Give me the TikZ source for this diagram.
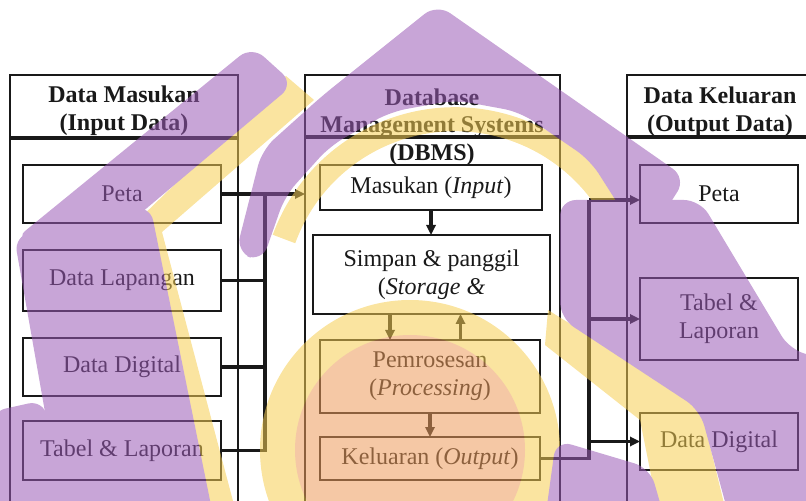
\documentclass[tikz,border=0pt]{standalone}
\usepackage{fontspec}
\setmainfont{Liberation Serif}
\usetikzlibrary{arrows.meta}

\definecolor{tinta}{RGB}{25,25,25}
\definecolor{ungu}{RGB}{155,91,182}
\definecolor{kuning}{RGB}{245,205,82}
\definecolor{jingga}{RGB}{236,155,91}

\tikzset{
  panel/.style={draw=tinta, line width=0.8pt, inner sep=0pt, outer sep=0pt},
  kotak/.style={draw=tinta, line width=1pt, inner sep=0pt, outer sep=0pt, align=center,
                text=tinta, font=\fontsize{12}{14}\selectfont},
  judul/.style={align=center, text=tinta, font=\fontsize{12}{13.8}\selectfont\bfseries},
  sekat/.style={draw=tinta, line width=2pt},
  garis/.style={draw=tinta, line width=1.6pt},
  panah/.style={garis, -{Triangle[length=5pt,width=4.6pt]}}
}

\begin{document}
\begin{tikzpicture}[x=0.5pt, y=-0.5pt]
  \useasboundingbox (0,0) rectangle (806,501);
  \clip (0,0) rectangle (806,501);

  % tiga panel
  \node[panel, minimum width=114pt,   minimum height=222.5pt] (pIn)  at (124,297.5) {};
  \node[panel, minimum width=127.5pt, minimum height=222.5pt] (pDb)  at (432.5,297.5) {};
  \node[panel, minimum width=101.5pt, minimum height=222.5pt] (pOut) at (728.5,297.5) {};
  \draw[sekat] (pIn.west |- 0,138)  -- (pIn.east |- 0,138);
  \draw[sekat] (pDb.west |- 0,137)  -- (pDb.east |- 0,137);
  \draw[sekat] (pOut.west |- 0,137) -- (pOut.east |- 0,137);

  \node[judul] (jIn)  at (124,111) {Data Masukan\\(Input Data)};
  \node[judul] (jDb)  at (432,127) {Database\\Management Systems\\(DBMS)};
  \node[judul] (jOut) at (720,112) {Data Keluaran\\(Output Data)};

  % data masukan
  \node[kotak, minimum width=99pt, minimum height=29pt]   (petaIn) at (122,194)   {Peta};
  \node[kotak, minimum width=99pt, minimum height=30.5pt] (lapIn)  at (122,280.5) {Data Lapangan};
  \node[kotak, minimum width=99pt, minimum height=29pt]   (digIn)  at (122,367)   {Data Digital};
  \node[kotak, minimum width=99pt, minimum height=29.5pt] (tabIn)  at (122,450.5) {Tabel \& Laporan};

  % DBMS
  \node[kotak, minimum width=111pt,   minimum height=22.5pt] (masuk)  at (431,187.5) {Masukan (\textit{Input})};
  \node[kotak, minimum width=118.5pt, minimum height=39.5pt] (simpan) at (431.5,274.5) {Simpan \& panggil\\(\textit{Storage \&}};
  \node[kotak, minimum width=110pt,   minimum height=36.5pt] (proses) at (430,376.5) {Pemrosesan\\(\textit{Processing})};
  \node[kotak, minimum width=110pt,   minimum height=21.5pt] (keluar) at (430,458.5) {Keluaran (\textit{Output})};

  % data keluaran
  \node[kotak, minimum width=79pt, minimum height=29pt]   (petaOut) at (719,194)   {Peta};
  \node[kotak, minimum width=79pt, minimum height=41pt]   (tabOut)  at (719,319)   {Tabel \&\\Laporan};
  \node[kotak, minimum width=79pt, minimum height=28.5pt] (digOut)  at (719,441.5) {Data Digital};

  % penghubung
  \coordinate (busIn)  at (265,0);
  \coordinate (busOut) at (589,200);
  \draw[panah] (petaIn.east) -- (petaIn.east -| pDb.west);
  \draw[garis] (tabIn.east) -| (busIn |- petaIn.east);
  \draw[garis] (lapIn.east) -- (lapIn.east -| busIn);
  \draw[garis] (digIn.east) -- (digIn.east -| busIn);

  \draw[panah] (masuk.south) -- (masuk.south |- simpan.north);
  \draw[panah] ([xshift=-20.75pt]simpan.south) -- ([xshift=-20.75pt]simpan.south |- proses.north);
  \draw[panah] ([xshift=15.25pt]proses.north) -- ([xshift=15.25pt]proses.north |- simpan.south);
  \draw[panah] (proses.south) -- (proses.south |- keluar.north);

  \draw[garis] (keluar.east) -| (busOut);
  \draw[panah] (busOut) -- (busOut -| petaOut.west);
  \draw[panah] (tabOut.west -| busOut) -- (tabOut.west);
  \draw[panah] (digOut.west -| busOut) -- (digOut.west);

  % tanda air
  \begin{scope}[transparency group, opacity=.55]
    \fill[kuning] (410,450) circle[radius=150];
    \fill[jingga] (410,450) circle[radius=115];
    \draw[kuning, line width=12pt] (284,239) arc[start angle=200, end angle=340, radius=182];
    \fill[kuning] (286,76) -- (314,100) -- (162,232) -- (238,520) -- (212,520) -- (130,228) -- cycle;
    \fill[kuning] (548,310) -- (700,405) -- (728,520) -- (660,520) -- (640,420) -- (545,345) -- cycle;
    \begin{scope}[rounded corners=8pt]
      \fill[ungu] (252,46) -- (294,84) -- (128,224) -- (14,240) -- cycle;
      \fill[ungu] (14,236) -- (150,205) -- (214,520) -- (64,520) -- cycle;
      \fill[ungu] (-10,412) -- (44,400) -- (66,520) -- (-10,520) -- cycle;
      \fill[ungu] (437,4) -- (686,178) -- (652,232) -- (625,215) -- (590,160) -- (520,112)
        -- (455,100) -- (390,112) -- (330,146) -- (285,196) -- (262,262) -- (236,252)
        -- (262,150) -- (322,96) -- cycle;
      \fill[ungu] (560,200) -- (700,200) -- (790,350) -- (830,360) -- (830,520) -- (730,520)
        -- (700,410) -- (560,318) -- cycle;
      \fill[ungu] (556,440) -- (650,468) -- (665,520) -- (545,520) -- cycle;
    \end{scope}
  \end{scope}
\end{tikzpicture}
\end{document}
